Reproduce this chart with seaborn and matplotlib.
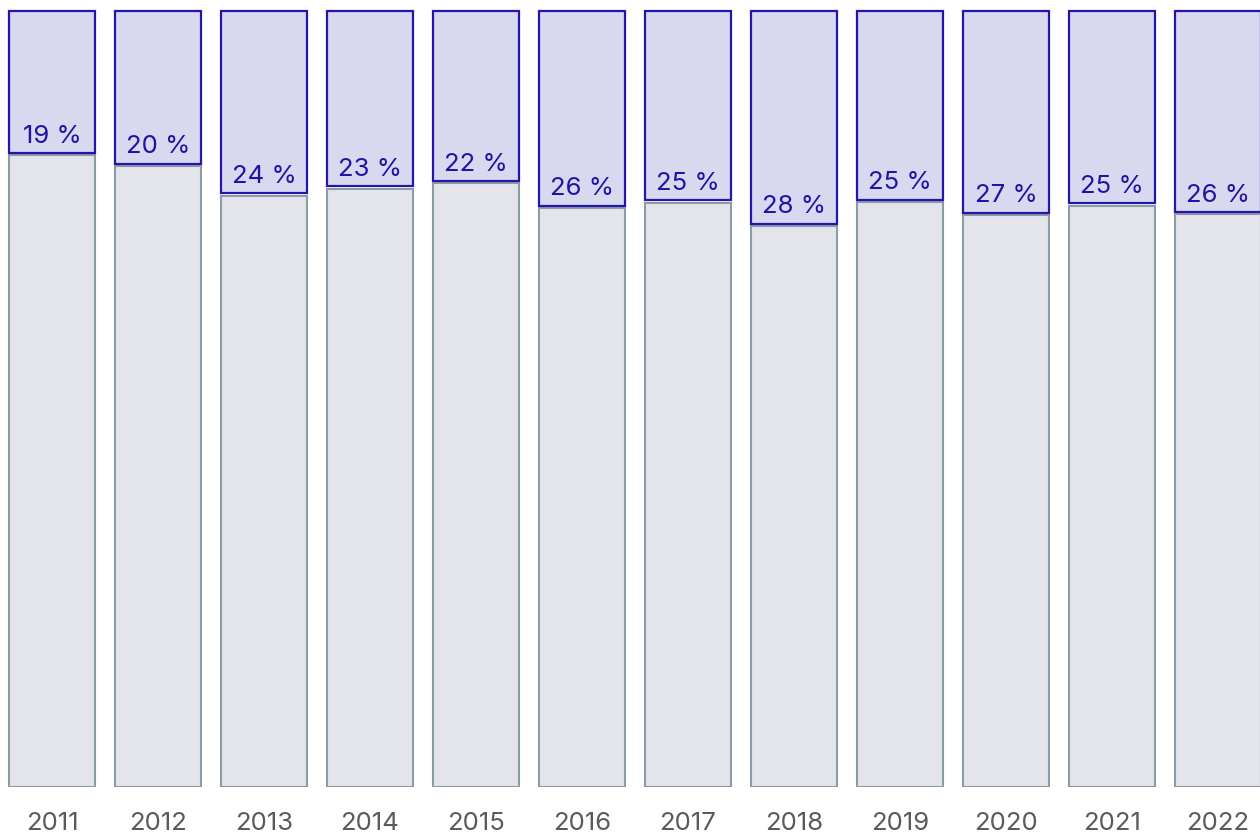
import numpy as np
import pandas as pd
import matplotlib
matplotlib.use("Agg")
import matplotlib.pyplot as plt
import seaborn as sns

# data
years = ["2011", "2012", "2013", "2014", "2015", "2016",
         "2017", "2018", "2019", "2020", "2021", "2022"]
share = [18.6, 20.0, 23.8, 22.9, 22.2, 25.4, 24.7, 27.7, 24.6, 26.3, 25.1, 26.2]
share_labels = [19, 20, 24, 23, 22, 26, 25, 28, 25, 27, 25, 26]

df = pd.DataFrame({"year": years, "share": share})
df["rest"] = 100 - df["share"]

sns.set_theme(style="white")
plt.rcParams["font.family"] = ["Inter", "DejaVu Sans"]

fig = plt.figure(figsize=(12.6, 8.33), dpi=100)
ax = fig.add_axes([0, 46 / 833, 1, 776 / 833])

# lower (grey) part
sns.barplot(data=df, x="year", y="rest", color="#e4e5ea", saturation=1,
            width=0.81, edgecolor="#8b9ca6", linewidth=1.5, ax=ax)

# upper (lavender) part stacked on top, small gap above the grey edge
gap = 0.3
x = np.arange(len(years))
ax.bar(x, df["share"] - gap, bottom=df["rest"] + gap, width=0.81, color="#d8d8ee",
       edgecolor="#2416ad", linewidth=1.6, clip_on=False)

for i, (r, lab) in enumerate(zip(df["rest"], share_labels)):
    ax.text(i, r + 1.0, f"{lab} %", ha="center", va="bottom",
            fontsize=18.5, color="#1f12a6")

ax.set_xlim(-52 / 106, 11 + 42 / 106)
ax.set_ylim(0, 100)
ax.set_xlabel("")
ax.set_ylabel("")
ax.set_yticks([])
ax.tick_params(axis="x", length=0, pad=18, labelsize=18.5, labelcolor="#5a5a5a")
sns.despine(ax=ax, left=True, bottom=True)

fig.savefig("out.png", dpi=100)
